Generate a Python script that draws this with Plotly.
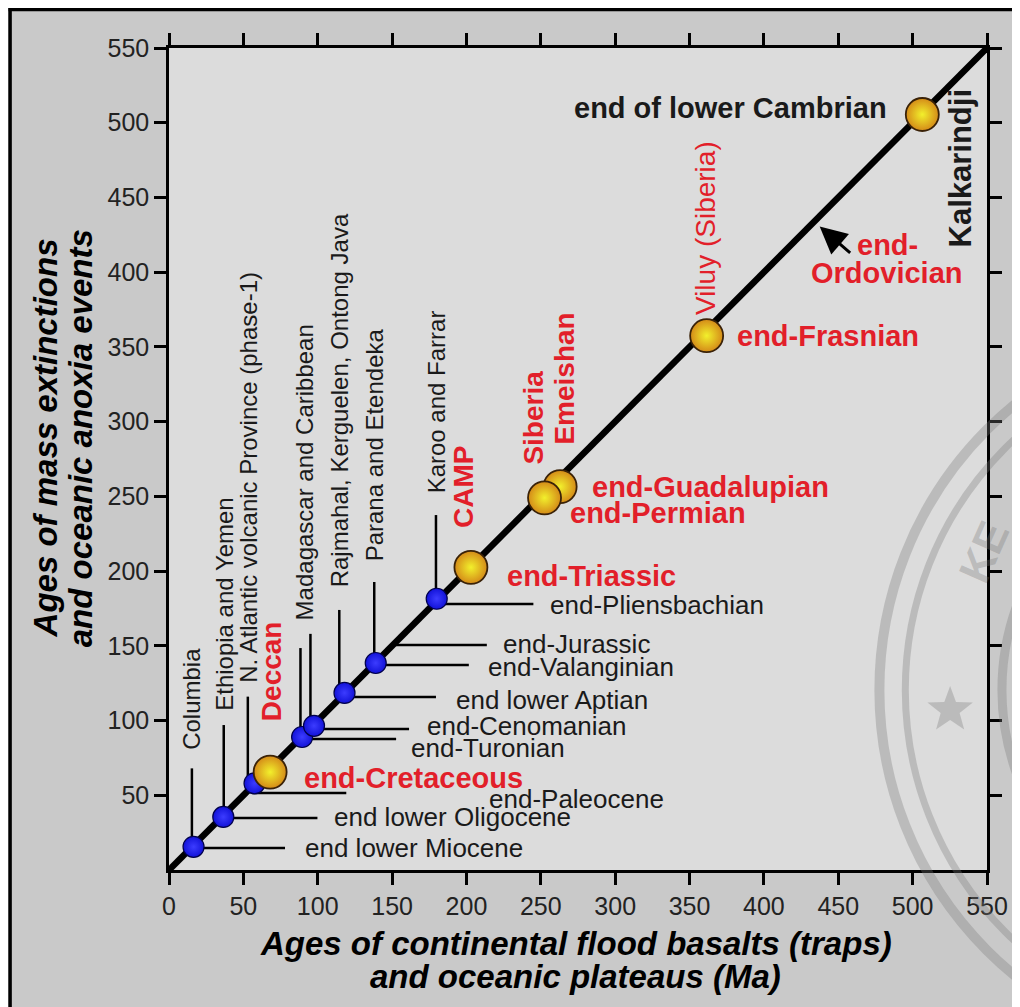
import math
import plotly.graph_objects as go

# ---------------- data (Ma) ----------------
blue_names = ["Columbia", "Ethiopia and Yemen", "N. Atlantic volcanic Province (phase-1)",
              "Madagascar", "Caribbean", "Rajmahal, Kerguelen, Ontong Java",
              "Parana and Etendeka", "Karoo and Farrar"]
blue_trap_age = [16.5, 36.5, 57.5, 89.5, 97.5, 118, 139, 180]
blue_event_age = [15.5, 35.5, 58, 89, 96.5, 118.5, 138.5, 181.5]

yellow_names = ["Deccan", "CAMP", "Emeishan", "Siberia", "Viluy (Siberia)", "Kalkarindji"]
yellow_trap_age = [68, 203, 263, 252.5, 361.5, 506.5]
yellow_event_age = [65.5, 202.5, 256.5, 249, 357.5, 505.5]

x_ticks = [0, 50, 100, 150, 200, 250, 300, 350, 400, 450, 500, 550]
y_ticks = [50, 100, 150, 200, 250, 300, 350, 400, 450, 500, 550]

# ---------------- layout helpers ----------------
# figure is drawn inside the page's 8px body margin
W, H = 1012, 999
L, T = 161, 40
PW, PH = 821, 822
R, B = W - L - PW, H - T - PH
def px(xp):  # page pixel -> paper
    return (xp - 169) / PW
def py(yp):
    return (870 - yp) / PH

FONT = "Liberation Sans, Arial, Helvetica, sans-serif"
RED = "#e21f2a"
BLK = "#1a1a1a"

# vertical (trap) labels: text, x centre, bottom y, style
vlabels = [
    ("Columbia", 15.4, 79, "n"),
    ("Ethiopia and Yemen", 36.8, 105, "n"),
    ("N. Atlantic volcanic Province (phase-1)", 52.9, 124, "n"),
    ("Deccan", 69, 98, "r"),
    ("Madagascar and Caribbean", 91.1, 166, "n"),
    ("Rajmahal, Kerguelen, Ontong Java", 114.5, 188, "n"),
    ("Parana and Etendeka", 138, 205, "n"),
    ("Karoo and Farrar", 179.5, 251, "n"),
    ("CAMP", 198.3, 227.5, "r"),
    ("Siberia", 245.2, 269.7, "r"),
    ("Emeishan", 265.3, 283, "r"),
    ("Viluy (Siberia)", 360.4, 370, "rn"),
    ("Kalkarindji", 532, 415, "k"),
]
# vertical leader lines: x, y start, y end
vleaders = [(15.4, 15.5, 68), (36.8, 35.5, 97), (53, 55, 116), (88.4, 89, 148.5),
            (95.1, 95, 158), (114.5, 117, 174), (138, 138, 192.7), (179.5, 181, 237.5)]

# horizontal (event) labels: text, left x, centre y, style
hlabels = [
    ("end lower Miocene", 90.4, 14.7, "n"),
    ("end lower Oligocene", 109.8, 35.5, "n"),
    ("end-Paleocene", 213.7, 47.3, "n"),
    ("end-Cretaceous", 89.7, 61.6, "r"),
    ("end-Turonian", 161.4, 81.6, "n"),
    ("end-Cenomanian", 172, 96.4, "n"),
    ("end lower Aptian", 191.6, 113.7, "n"),
    ("end-Valanginian", 213, 135.8, "n"),
    ("end-Jurassic", 223, 151.2, "n"),
    ("end-Pliensbachian", 254.5, 177.3, "n"),
    ("end-Triassic", 225.7, 196.7, "r"),
    ("end-Permian", 268.6, 238.9, "r"),
    ("end-Guadalupian", 283.3, 256.3, "r"),
    ("end-Frasnian", 380.4, 357.3, "r"),
    ("end of lower Cambrian", 271, 509.9, "kb"),
]
# horizontal leader lines: y, x start, x end
hleaders = [(14.7, 16, 78), (34.8, 36, 99.8), (51.5, 56, 119.2), (87.6, 89, 152.7),
            (94.3, 96, 161.4), (115.8, 117, 179.5), (137.2, 138, 201.6),
            (150.6, 150.6, 213.7), (178, 180, 245)]

def style(s, vertical):
    if s == "n":
        return dict(family=FONT, size=24 if vertical else 26, color=BLK)
    if s == "r":
        return dict(family=FONT, size=28 if vertical else 29, color=RED, weight="bold")
    if s == "rn":
        return dict(family=FONT, size=28, color=RED)
    if s == "k":
        return dict(family=FONT, size=31, color=BLK, weight="bold")
    if s == "kb":
        return dict(family=FONT, size=29, color=BLK, weight="bold")

fig = go.Figure()

# diagonal 1:1 line
fig.add_trace(go.Scatter(x=[0, 550], y=[0, 550], mode="lines",
                         line=dict(color="black", width=6.5), hoverinfo="skip"))

# leader lines
lx, ly = [], []
for x, y0, y1 in vleaders:
    lx += [x, x, None]; ly += [y0, y1, None]
for y, x0, x1 in hleaders:
    lx += [x0, x1, None]; ly += [y, y, None]
fig.add_trace(go.Scatter(x=lx, y=ly, mode="lines", line=dict(color="black", width=2.5),
                         hoverinfo="skip"))

# blue points
fig.add_trace(go.Scatter(x=blue_trap_age, y=blue_event_age, mode="markers", text=blue_names,
                         marker=dict(size=21, color="#1212d8",
                                     gradient=dict(type="radial", color="#3c3cff"),
                                     line=dict(color="#00004a", width=1.2))))
# yellow points
fig.add_trace(go.Scatter(x=yellow_trap_age, y=yellow_event_age, mode="markers", text=yellow_names,
                         marker=dict(size=33, color="#d48a18",
                                     gradient=dict(type="radial", color="#f2f02c"),
                                     line=dict(color="#3a2208", width=1.8))))

ann = []
for t, x, y, s in vlabels:
    ann.append(dict(text=t, x=x, y=y, xref="x", yref="y", showarrow=False,
                    textangle=-90, xanchor="center", yanchor="bottom", font=style(s, True)))
for t, x, y, s in hlabels:
    ann.append(dict(text=t, x=x, y=y, xref="x", yref="y", showarrow=False,
                    xanchor="left", yanchor="middle", font=style(s, False)))
# end-Ordovician (two lines) with arrow
for t, y in [("end-", 418.2), ("Ordovician", 399.5)]:
    ann.append(dict(text=t, x=483, y=y, xref="x", yref="y", showarrow=False,
                    xanchor="center", yanchor="middle",
                    font=dict(family=FONT, size=29, color=RED, weight="bold")))
ann.append(dict(text="", x=437.5, y=430.5, xref="x", yref="y", ax=459, ay=412, axref="x", ayref="y",
                showarrow=True, arrowhead=2, arrowsize=1.8, arrowwidth=3, arrowcolor="black",
                standoff=0))

# axis titles (each line placed separately)
TF = dict(family=FONT, size=33, color="black", weight="bold", style="italic")
for t, xp in [("Ages of mass extinctions", 45), ("and oceanic anoxia events", 80)]:
    ann.append(dict(text=t, x=px(xp), y=py(438), xref="paper", yref="paper", showarrow=False,
                    textangle=-90, xanchor="center", yanchor="middle", font=TF))
for t, yp in [("Ages of continental flood basalts (traps)", 943), ("and oceanic plateaus (Ma)", 976)]:
    ann.append(dict(text=t, x=px(577), y=py(yp), xref="paper", yref="paper", showarrow=False,
                    xanchor="center", yanchor="middle", font=TF))

# faint seal watermark decorations
WM = "rgba(120,120,120,0.33)"
ann.append(dict(text="KE", x=px(986), y=py(552), xref="paper", yref="paper", showarrow=False,
                xanchor="center", yanchor="middle", textangle=-66,
                font=dict(family=FONT, size=44, color=WM, weight="bold")))

shapes = [
    dict(type="line", xref="paper", yref="paper", x0=px(8), x1=px(1020), y0=py(9.5), y1=py(9.5),
         line=dict(color="black", width=3.5)),
    dict(type="line", xref="paper", yref="paper", x0=px(9.5), x1=px(9.5), y0=py(1010), y1=py(8),
         line=dict(color="black", width=3.5)),
]
cx, cy = 1250, 690
for r, w in [(368, 10), (342, 7), (245, 9)]:
    shapes.append(dict(type="circle", xref="paper", yref="paper",
                       x0=px(cx - r), x1=px(cx + r), y0=py(cy + r), y1=py(cy - r),
                       line=dict(color=WM, width=w), layer="above"))
# star of the seal
sx, sy, ro, ri = 953, 710, 24, 10
pts = []
for k in range(10):
    a = -math.pi / 2 + k * math.pi / 5
    rr = ro if k % 2 == 0 else ri
    pts.append((px(sx + rr * math.cos(a)), py(sy + rr * math.sin(a))))
path = "M " + " L ".join(f"{a:.5f},{b:.5f}" for a, b in pts) + " Z"
shapes.append(dict(type="path", xref="paper", yref="paper", path=path,
                   fillcolor=WM, line=dict(width=0), layer="above"))

fig.update_layout(
    width=W, height=H, autosize=False,
    margin=dict(l=L, r=R, t=T, b=B, pad=0),
    paper_bgcolor="#c9c9c9", plot_bgcolor="#dcdcdc",
    showlegend=False, annotations=ann, shapes=shapes,
    xaxis=dict(range=[0, 550], tickvals=x_ticks, ticks="outside", ticklen=12, tickwidth=2.5,
               tickcolor="black", showline=True, linecolor="black", linewidth=2.5, mirror="ticks",
               showgrid=False, zeroline=False,
               tickfont=dict(family=FONT, size=25, color="#222")),
    yaxis=dict(range=[0, 550], tickvals=y_ticks, ticks="outside", ticklen=12, tickwidth=2.5,
               tickcolor="black", showline=True, linecolor="black", linewidth=2.5, mirror="ticks",
               showgrid=False, zeroline=False,
               tickfont=dict(family=FONT, size=25, color="#222")),
)

fig.write_html("out.html")
